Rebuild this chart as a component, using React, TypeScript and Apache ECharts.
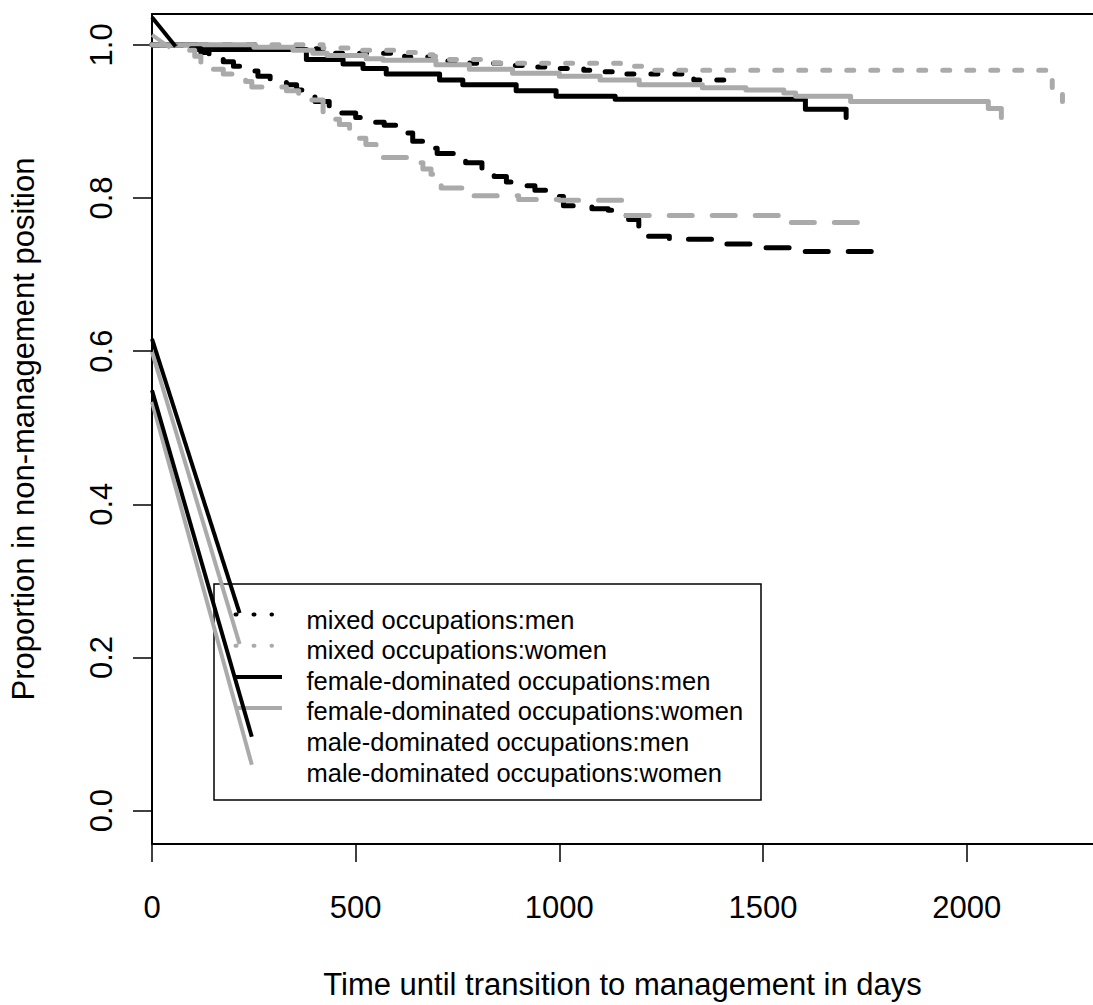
import React, { useEffect, useRef } from "react";
import * as echarts from "echarts";

// ---- axis ticks ----
const xTicks = [0, 500, 1000, 1500, 2000];
const yTicks = [0, 0.2, 0.4, 0.6, 0.8, 1.0];

// ---- Kaplan-Meier curves (time in days, proportion in non-management) ----
const mixedMenTime = [0, 280, 450, 620, 700, 780, 860, 930, 990, 1060, 1110, 1160, 1330, 1405];
const mixedMenSurv = [1, 0.995, 0.989, 0.984, 0.979, 0.976, 0.973, 0.971, 0.969, 0.967, 0.965, 0.962, 0.954, 0.954];

const mixedWomenTime = [0, 420, 500, 600, 650, 690, 720, 840, 1150, 1220, 2210, 2235];
const mixedWomenSurv = [1, 0.996, 0.993, 0.99, 0.987, 0.985, 0.981, 0.976, 0.972, 0.967, 0.944, 0.924];

const femaleMenTime = [0, 110, 379, 469, 518, 575, 706, 763, 894, 992, 1137, 1604, 1704];
const femaleMenSurv = [1, 0.994, 0.981, 0.975, 0.969, 0.962, 0.954, 0.948, 0.94, 0.933, 0.929, 0.916, 0.905];

const femaleWomenTime = [0, 250, 346, 395, 430, 526, 567, 697, 779, 885, 1000, 1100, 1196, 1351, 1458, 1551, 1580, 1715, 2053, 2085];
const femaleWomenSurv = [1, 0.997, 0.993, 0.989, 0.986, 0.982, 0.98, 0.974, 0.968, 0.963, 0.959, 0.954, 0.948, 0.944, 0.941, 0.937, 0.933, 0.926, 0.917, 0.905];

const maleMenTime = [0, 95, 120, 140, 175, 200, 230, 260, 290, 330, 355, 380, 400, 435, 465, 500, 520, 570, 605, 640, 675, 700, 740, 770, 810, 840, 870, 900, 940, 985, 1010, 1080, 1120, 1150, 1170, 1195, 1215, 1270, 1380, 1490, 1600, 1795];
const maleMenSurv = [1, 0.995, 0.99, 0.982, 0.978, 0.972, 0.966, 0.959, 0.952, 0.948, 0.941, 0.932, 0.926, 0.919, 0.911, 0.905, 0.899, 0.895, 0.885, 0.874, 0.865, 0.858, 0.852, 0.846, 0.838, 0.828, 0.821, 0.816, 0.81, 0.802, 0.79, 0.786, 0.784, 0.777, 0.772, 0.76, 0.75, 0.746, 0.74, 0.735, 0.73, 0.73];

const maleWomenTime = [0, 90, 105, 120, 150, 175, 200, 230, 245, 330, 360, 385, 420, 440, 460, 485, 505, 525, 550, 640, 665, 685, 710, 790, 900, 1000, 1163, 1540, 1742];
const maleWomenSurv = [1, 0.993, 0.985, 0.975, 0.968, 0.962, 0.957, 0.952, 0.945, 0.94, 0.935, 0.928, 0.911, 0.903, 0.896, 0.885, 0.878, 0.87, 0.853, 0.846, 0.838, 0.831, 0.813, 0.803, 0.798, 0.797, 0.777, 0.768, 0.768];

// ---- stray legend segments drawn in data space ----
const topBlackX = [0, 58];
const topBlackY = [1.036, 0.998];
const topGrayX = [0, 45];
const topGrayY = [1.013, 0.996];
const lowBlackAX = [0, 215];
const lowBlackAY = [0.616, 0.258];
const lowGrayAX = [0, 215];
const lowGrayAY = [0.599, 0.2174];
const lowBlackBX = [0, 245];
const lowBlackBY = [0.549, 0.0964];
const lowGrayBX = [0, 245];
const lowGrayBY = [0.534, 0.0599];

// ---- legend ----
const legendLabels = [
  "mixed occupations:men",
  "mixed occupations:women",
  "female-dominated occupations:men",
  "female-dominated occupations:women",
  "male-dominated occupations:men",
  "male-dominated occupations:women",
];

const BLACK = "#000000";
const GRAY = "#aaaaaa";
const FONT = "'Liberation Sans', Arial, Helvetica, sans-serif";
const DOT = [7, 17];
const DASH = [23, 20];

function zip(xs: number[], ys: number[]) {
  return xs.map((x, i) => [x, ys[i]]);
}

function kmSeries(name: string, xs: number[], ys: number[], color: string, type: any) {
  return {
    type: "line",
    name,
    data: zip(xs, ys),
    step: "end",
    symbol: "none",
    silent: true,
    lineStyle: { color, width: 5, type, cap: "round", join: "round" },
  };
}

function segSeries(xs: number[], ys: number[], color: string) {
  return {
    type: "line",
    data: zip(xs, ys),
    symbol: "none",
    silent: true,
    lineStyle: { color, width: 4, type: "solid", cap: "butt" },
  };
}

export default function App() {
  const ref = useRef<HTMLDivElement>(null);

  useEffect(() => {
    const chart = echarts.init(ref.current!, null, { renderer: "svg" });

    const rowLineY = (i: number) => 614.5 + 31.2 * i;
    const rowTextY = (i: number) => 619.5 + 30.6 * i;
    const legendStyles = [
      { color: BLACK, dash: [1, 17], x2: 272 },
      { color: GRAY, dash: [1, 17], x2: 272 },
      { color: BLACK, dash: null, x2: 282 },
      { color: GRAY, dash: null, x2: 282 },
    ];

    const graphics: any[] = [
      {
        type: "rect",
        shape: { x: 214, y: 584, width: 547, height: 216 },
        style: { fill: "none", stroke: BLACK, lineWidth: 1.5 },
        silent: true,
      },
    ];
    legendStyles.forEach((s, i) => {
      graphics.push({
        type: "line",
        shape: { x1: s.dash ? 235.5 : 236, y1: rowLineY(i), x2: s.x2, y2: rowLineY(i) },
        style: {
          stroke: s.color,
          lineWidth: 4,
          lineDash: s.dash || undefined,
          lineCap: s.dash ? "round" : "butt",
        },
        silent: true,
      });
    });
    legendLabels.forEach((t, i) => {
      graphics.push({
        type: "text",
        x: 306.5,
        y: rowTextY(i),
        style: {
          text: t,
          fontSize: 25.5,
          fontFamily: FONT,
          fill: BLACK,
          textAlign: "left",
          textVerticalAlign: "middle",
          verticalAlign: "middle",
        },
        silent: true,
      });
    });

    const axisLineStyle = { color: BLACK, width: 2 };

    chart.setOption({
      animation: false,
      backgroundColor: "#ffffff",
      textStyle: { fontFamily: FONT, color: BLACK },
      grid: { left: 152, right: 0, top: 14, bottom: 158, containLabel: false },
      xAxis: [
        {
          type: "value",
          min: 0,
          max: 2310,
          position: "bottom",
          axisLine: { show: true, onZero: false, lineStyle: axisLineStyle },
          axisTick: { show: true, length: 18, customValues: xTicks, lineStyle: { color: BLACK, width: 1.5 } },
          axisLabel: {
            show: true,
            customValues: xTicks,
            fontSize: 31,
            color: BLACK,
            fontFamily: FONT,
            margin: 48,
            formatter: (v: number) => String(v),
          },
          splitLine: { show: false },
          name: "Time until transition to management in days",
          nameLocation: "middle",
          nameGap: 125,
          nameTextStyle: { fontSize: 31, color: BLACK, fontFamily: FONT },
        },
        {
          type: "value",
          min: 0,
          max: 2310,
          position: "top",
          axisLine: { show: true, onZero: false, lineStyle: axisLineStyle },
          axisTick: { show: false },
          axisLabel: { show: false },
          splitLine: { show: false },
        },
      ],
      yAxis: {
        type: "value",
        min: -0.0436,
        max: 1.0403,
        axisLine: { show: true, onZero: false, lineStyle: axisLineStyle },
        axisTick: { show: true, length: 19, customValues: yTicks, lineStyle: { color: BLACK, width: 1.5 } },
        axisLabel: {
          show: true,
          customValues: yTicks,
          rotate: 90,
          fontSize: 31,
          color: BLACK,
          fontFamily: FONT,
          margin: 35,
          formatter: (v: number) => v.toFixed(1),
        },
        splitLine: { show: false },
        name: "Proportion in non-management position",
        nameLocation: "middle",
        nameGap: 113,
        nameTextStyle: { fontSize: 31, color: BLACK, fontFamily: FONT },
      },
      series: [
        kmSeries("mixed occupations:men", mixedMenTime, mixedMenSurv, BLACK, DOT),
        kmSeries("mixed occupations:women", mixedWomenTime, mixedWomenSurv, GRAY, DOT),
        kmSeries("female-dominated occupations:men", femaleMenTime, femaleMenSurv, BLACK, "solid"),
        kmSeries("female-dominated occupations:women", femaleWomenTime, femaleWomenSurv, GRAY, "solid"),
        kmSeries("male-dominated occupations:men", maleMenTime, maleMenSurv, BLACK, DASH),
        kmSeries("male-dominated occupations:women", maleWomenTime, maleWomenSurv, GRAY, DASH),
        segSeries(topGrayX, topGrayY, GRAY),
        segSeries(topBlackX, topBlackY, BLACK),
        segSeries(lowGrayBX, lowGrayBY, GRAY),
        segSeries(lowBlackBX, lowBlackBY, BLACK),
        segSeries(lowGrayAX, lowGrayAY, GRAY),
        segSeries(lowBlackAX, lowBlackAY, BLACK),
      ],
      graphic: graphics,
    });

    return () => chart.dispose();
  }, []);

  return (
    <div
      ref={ref}
      style={{ position: "absolute", left: 0, top: 0, width: 1093, height: 1005, background: "#fff" }}
    />
  );
}
